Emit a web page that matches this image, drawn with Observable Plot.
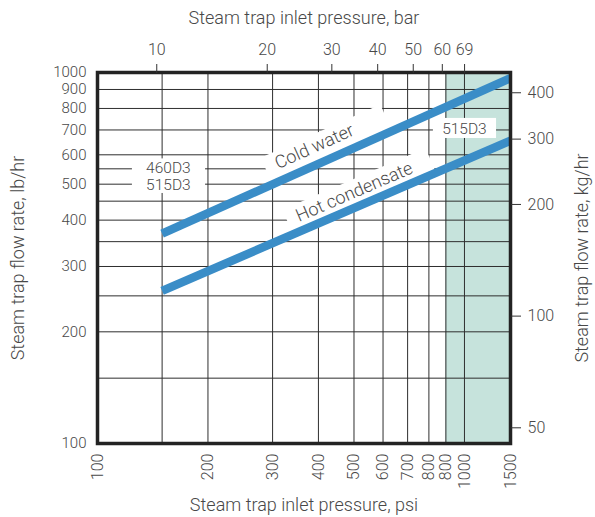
<!DOCTYPE html>
<html>
<head>
<meta charset="utf-8">
<script src="https://cdn.jsdelivr.net/npm/d3@7"></script>
<script src="https://cdn.jsdelivr.net/npm/@observablehq/plot@0.6"></script>
<style>
  html, body { margin: 0; padding: 0; background: #fff; }
  #chart { width: 595px; height: 517px; }
</style>
</head>
<body>
<div id="chart"></div>
<script>
// ---------- data ----------
const seriesNames = ["Cold water", "Hot condensate"];
const pressurePsi = [150, 1335];          // start of curves, right edge of frame
const coldWaterLbHr = [368, 965];
const hotCondensateLbHr = [258, 655];

const psiTicks = [100, 200, 300, 400, 500, 600, 700, 800, 890, 1000, 1335];
const psiTickLabels = ["100", "200", "300", "400", "500", "600", "700", "800", "800", "1000", "1500"];
const psiGrid = [150, 200, 300, 400, 500, 600, 700, 800, 890, 1000];
const barTicks = [10, 20, 30, 40, 50, 60, 69];
const lbTicks = [100, 200, 300, 400, 500, 600, 700, 800, 900, 1000];
const lbGrid = [150, 200, 250, 300, 350, 400, 450, 500, 550, 600, 700, 800, 900];
const kgTicks = [50, 100, 200, 300, 400];
const shadedFromPsi = 890;

const modelLabels = ["460D3", "515D3", "515D3"];

// ---------- constants ----------
const PSI_PER_BAR = 14.5038;
const LB_PER_KG = 2.20462;
const X_MAX = 1335;
const TEXT = "#484848";
const BLUE = "#3a8dc7";
const SHADE = "#c6e3dc";
const GRID = "#2e2e2e";

// ---------- derived tables ----------
const lineData = [];
pressurePsi.forEach((p, i) => {
  lineData.push({series: seriesNames[0], psi: p, lb: coldWaterLbHr[i]});
  lineData.push({series: seriesNames[1], psi: p, lb: hotCondensateLbHr[i]});
});
function onLine(values, psi) {
  const t = Math.log(psi / pressurePsi[0]) / Math.log(pressurePsi[1] / pressurePsi[0]);
  return values[0] * Math.pow(values[1] / values[0], t);
}
const psiTickRows = psiTicks.map((d, i) => ({psi: d, label: psiTickLabels[i]}));

// label placement (annotation layout)
const coldMask = {from: 289, to: 612};
const hotMask = {from: 330, to: 810};
const coldLabel = {psi: 390};
const hotLabel = {psi: 501};
const boxLabels = [
  {text: modelLabels[0], psi: 156, lb: 553},
  {text: modelLabels[1], psi: 156, lb: 497},
  {text: modelLabels[2], psi: 1000, lb: 706}
];
const boxes = [
  {x1: 124.5, x2: 197, y1: 472, y2: 585},
  {x1: 823, x2: 1223, y1: 664, y2: 752}
];

const fam = "Roboto, 'DejaVu Sans', sans-serif";
const W = 300;

const chart = Plot.plot({
  width: 595,
  height: 517,
  marginLeft: 97,
  marginRight: 85,
  marginTop: 72,
  marginBottom: 74,
  style: {fontFamily: fam, fontSize: "16px", fontWeight: W, color: TEXT, background: "#fff"},
  x: {type: "log", domain: [100, X_MAX]},
  y: {type: "log", domain: [100, 1000]},
  marks: [
    // shaded region
    Plot.rect([0], {x1: shadedFromPsi, x2: X_MAX, y1: 100, y2: 1000, fill: SHADE}),
    // grid
    Plot.ruleX(psiGrid, {stroke: GRID, strokeWidth: 1}),
    Plot.ruleY(lbGrid, {stroke: GRID, strokeWidth: 1}),
    // label backgrounds (white masks)
    Plot.link([coldMask], {
      x1: d => d.from, y1: d => onLine(coldWaterLbHr, d.from),
      x2: d => d.to, y2: d => onLine(coldWaterLbHr, d.to),
      stroke: "white", strokeWidth: 29, strokeLinecap: "butt", dy: -16
    }),
    Plot.link([hotMask], {
      x1: d => d.from, y1: d => onLine(hotCondensateLbHr, d.from),
      x2: d => d.to, y2: d => onLine(hotCondensateLbHr, d.to),
      stroke: "white", strokeWidth: 27, strokeLinecap: "butt", dy: -14.5
    }),
    Plot.rect(boxes, {x1: "x1", x2: "x2", y1: "y1", y2: "y2", fill: "white"}),
    // curves
    Plot.line(lineData, {x: "psi", y: "lb", z: "series", stroke: BLUE, strokeWidth: 8.5, strokeLinecap: "butt", clip: true}),
    // curve labels
    Plot.text([coldLabel], {x: d => d.psi, y: d => onLine(coldWaterLbHr, d.psi), text: () => seriesNames[0],
      rotate: -24.3, dy: -19, fontSize: 18, fontWeight: W, fill: TEXT}),
    Plot.text([hotLabel], {x: d => d.psi, y: d => onLine(hotCondensateLbHr, d.psi), text: () => seriesNames[1],
      rotate: -23.3, dy: -16, fontSize: 18, fontWeight: W, fill: TEXT}),
    Plot.text(boxLabels, {x: "psi", y: "lb", text: "text", fontSize: 15.5, fontWeight: W, fill: TEXT}),
    // frame
    Plot.frame({stroke: "#232323", strokeWidth: 3.5}),
    // bottom axis labels (psi)
    Plot.text(psiTickRows, {x: "psi", text: "label", frameAnchor: "bottom", rotate: -90, textAnchor: "end",
      lineAnchor: "middle", dy: 10, fontSize: 16, fontWeight: W, fill: TEXT}),
    // top axis (bar)
    Plot.axisX(barTicks.map(b => b * PSI_PER_BAR), {anchor: "top", tickSize: 9, tickFormat: () => "", label: null, stroke: "#333"}),
    Plot.text(barTicks, {x: b => b * PSI_PER_BAR, text: b => String(b), frameAnchor: "top", lineAnchor: "middle",
      dy: -23, fontSize: 16, fontWeight: W, fill: TEXT}),
    // left axis (lb/hr)
    Plot.text(lbTicks, {y: d => d, text: d => String(d), frameAnchor: "left", textAnchor: "end", lineAnchor: "middle",
      dx: -11, fontSize: 15, fontWeight: W, fill: TEXT}),
    // right axis (kg/hr)
    Plot.axisY(kgTicks.map(k => k * LB_PER_KG), {anchor: "right", tickSize: 10, tickFormat: () => "", label: null, stroke: "#333"}),
    Plot.text(kgTicks, {y: k => k * LB_PER_KG, text: k => String(k), frameAnchor: "right", textAnchor: "start", lineAnchor: "middle",
      dx: 17, fontSize: 16, fontWeight: W, fill: TEXT}),
    // axis titles
    Plot.text(["Steam trap inlet pressure, bar"], {frameAnchor: "top", textAnchor: "middle", lineAnchor: "middle", dy: -54, text: d => d, fontSize: 18, fontWeight: W, fill: TEXT}),
    Plot.text(["Steam trap inlet pressure, psi"], {frameAnchor: "bottom", textAnchor: "middle", lineAnchor: "middle", dy: 62, text: d => d, fontSize: 18, fontWeight: W, fill: TEXT}),
    Plot.text(["Steam trap flow rate, lb/hr"], {frameAnchor: "left", textAnchor: "middle", lineAnchor: "middle", dx: -79, rotate: -90, text: d => d, fontSize: 18, fontWeight: W, fill: TEXT}),
    Plot.text(["Steam trap flow rate, kg/hr"], {frameAnchor: "right", textAnchor: "middle", lineAnchor: "middle", dx: 72, rotate: -90, text: d => d, fontSize: 18, fontWeight: W, fill: TEXT})
  ]
});
document.getElementById("chart").appendChild(chart);
</script>
</body>
</html>
